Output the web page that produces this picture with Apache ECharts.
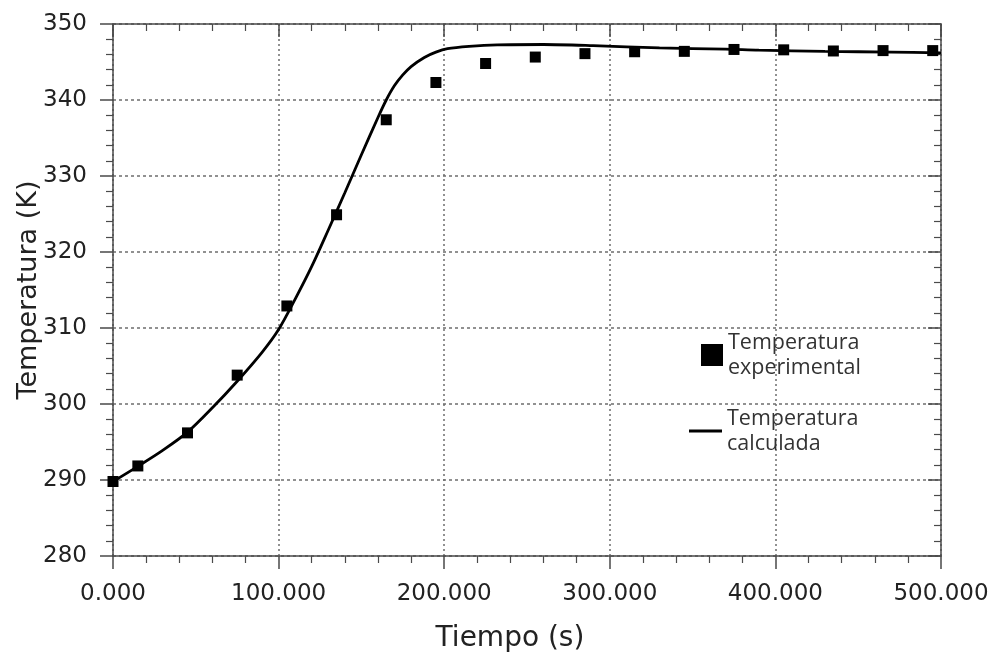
<!DOCTYPE html>
<html>
<head>
<meta charset="utf-8">
<title>Temperatura vs Tiempo</title>
<script src="https://cdn.jsdelivr.net/npm/echarts@6/dist/echarts.min.js"></script>
<style>
  html, body { margin: 0; padding: 0; background: #ffffff; }
  #chart { width: 993px; height: 658px; }
</style>
</head>
<body>
<div id="chart"></div>
<script>
// Measured temperatures (K) at sampling times (s)
const expTime = [0, 15, 45, 75, 105, 135, 165, 195, 225, 255, 285, 315, 345, 375, 405, 435, 465, 495];
const expTemp = [289.8, 291.85, 296.2, 303.8, 312.9, 324.9, 337.4, 342.3, 344.8, 345.65, 346.1, 346.35, 346.4, 346.65, 346.6, 346.45, 346.5, 346.5];

// Model curve (K) over time (s)
const calcTime = [0, 15, 30, 45, 60, 75, 90, 100, 110, 120, 130, 140, 150, 160, 165, 170, 175, 180, 188, 195, 202, 215, 232, 260, 290, 330, 370, 390, 430, 470, 500];
const calcTemp = [289.8, 291.8, 293.9, 296.3, 299.5, 303.0, 306.8, 309.8, 313.8, 318.1, 322.9, 327.8, 332.8, 337.7, 340.0, 341.9, 343.3, 344.4, 345.6, 346.3, 346.75, 347.05, 347.25, 347.3, 347.15, 346.85, 346.7, 346.55, 346.4, 346.3, 346.2];

// Axis ranges
const xMin = 0, xMax = 500, xStep = 100;
const yMin = 280, yMax = 350, yStep = 10;

const seriesExp = 'Temperatura experimental';
const seriesCalc = 'Temperatura calculada';

const toPairs = (xs, ys) => xs.map((x, i) => [x, ys[i]]);

const frameColor = '#4a4a4a';
const gridColor = '#6e6e6e';
const tickFont = { fontFamily: 'DejaVu Sans', fontSize: 23, color: '#222' };
const legendFont = { fontFamily: 'Open Sans', fontSize: 21.5, lineHeight: 25, color: '#333' };

const chart = echarts.init(document.getElementById('chart'), null, { renderer: 'canvas' });

const mirrorAxis = (extra) => Object.assign({
  gridIndex: 0,
  axisLine: { show: true, onZero: false, lineStyle: { color: frameColor, width: 1.5 } },
  axisTick: { show: true, inside: true, length: 13, lineStyle: { color: frameColor, width: 1.5 } },
  minorTick: { show: true, splitNumber: 5, length: 7, lineStyle: { color: frameColor, width: 1.2 } },
  axisLabel: { show: false },
  splitLine: { show: false }
}, extra);

chart.setOption({
  backgroundColor: '#ffffff',
  animation: false,
  grid: { left: 113, right: 52, top: 24, bottom: 102, containLabel: false },
  xAxis: [
    {
      type: 'value', min: xMin, max: xMax, interval: xStep, position: 'bottom',
      name: 'Tiempo (s)', nameLocation: 'middle', nameGap: 69, nameMoveOverlap: false,
      nameTextStyle: { fontFamily: 'DejaVu Sans', fontSize: 28, color: '#222', padding: [0, 34, 0, 0] },
      axisLine: { show: true, onZero: false, lineStyle: { color: frameColor, width: 1.5 } },
      axisTick: { show: true, length: 13, lineStyle: { color: frameColor, width: 1.5 } },
      minorTick: { show: true, splitNumber: 5, length: 7, lineStyle: { color: frameColor, width: 1.2 } },
      axisLabel: Object.assign({ margin: 27, formatter: v => v.toFixed(3) }, tickFont),
      splitLine: { show: true, lineStyle: { color: gridColor, type: [2, 3], width: 1.5 } }
    },
    mirrorAxis({ type: 'value', min: xMin, max: xMax, interval: xStep, position: 'top' })
  ],
  yAxis: [
    {
      type: 'value', min: yMin, max: yMax, interval: yStep, position: 'left',
      name: 'Temperatura (K)', nameLocation: 'middle', nameGap: 71, nameMoveOverlap: false,
      nameTextStyle: { fontFamily: 'DejaVu Sans', fontSize: 27, color: '#222' },
      axisLine: { show: true, onZero: false, lineStyle: { color: frameColor, width: 1.5 } },
      axisTick: { show: true, length: 13, lineStyle: { color: frameColor, width: 1.5 } },
      minorTick: { show: true, splitNumber: 5, length: 7, lineStyle: { color: frameColor, width: 1.2 } },
      axisLabel: Object.assign({ margin: 26 }, tickFont),
      splitLine: { show: true, lineStyle: { color: gridColor, type: [3, 3], width: 1.5 } }
    },
    mirrorAxis({ type: 'value', min: yMin, max: yMax, interval: yStep, position: 'right' })
  ],
  legend: [
    {
      data: [seriesExp], orient: 'vertical', left: 701, top: 330, padding: 0,
      icon: 'rect', itemWidth: 22, itemHeight: 22, selectedMode: false,
      formatter: n => n.replace(' ', '\n'),
      textStyle: legendFont
    },
    {
      data: [seriesCalc], orient: 'vertical', left: 689, top: 406, padding: 0,
      icon: 'rect', itemWidth: 33, itemHeight: 3, selectedMode: false,
      formatter: n => n.replace(' ', '\n'),
      textStyle: legendFont
    }
  ],
  series: [
    {
      name: seriesCalc, type: 'line', xAxisIndex: 0, yAxisIndex: 0,
      data: toPairs(calcTime, calcTemp), smooth: 0.3,
      showSymbol: false, symbol: 'none',
      lineStyle: { color: '#000', width: 2.8 }, itemStyle: { color: '#000' }, z: 3
    },
    {
      name: seriesExp, type: 'scatter', xAxisIndex: 0, yAxisIndex: 0,
      data: toPairs(expTime, expTemp), symbol: 'rect', symbolSize: 11,
      itemStyle: { color: '#000', opacity: 1 }, z: 4
    }
  ]
});
</script>
</body>
</html>
